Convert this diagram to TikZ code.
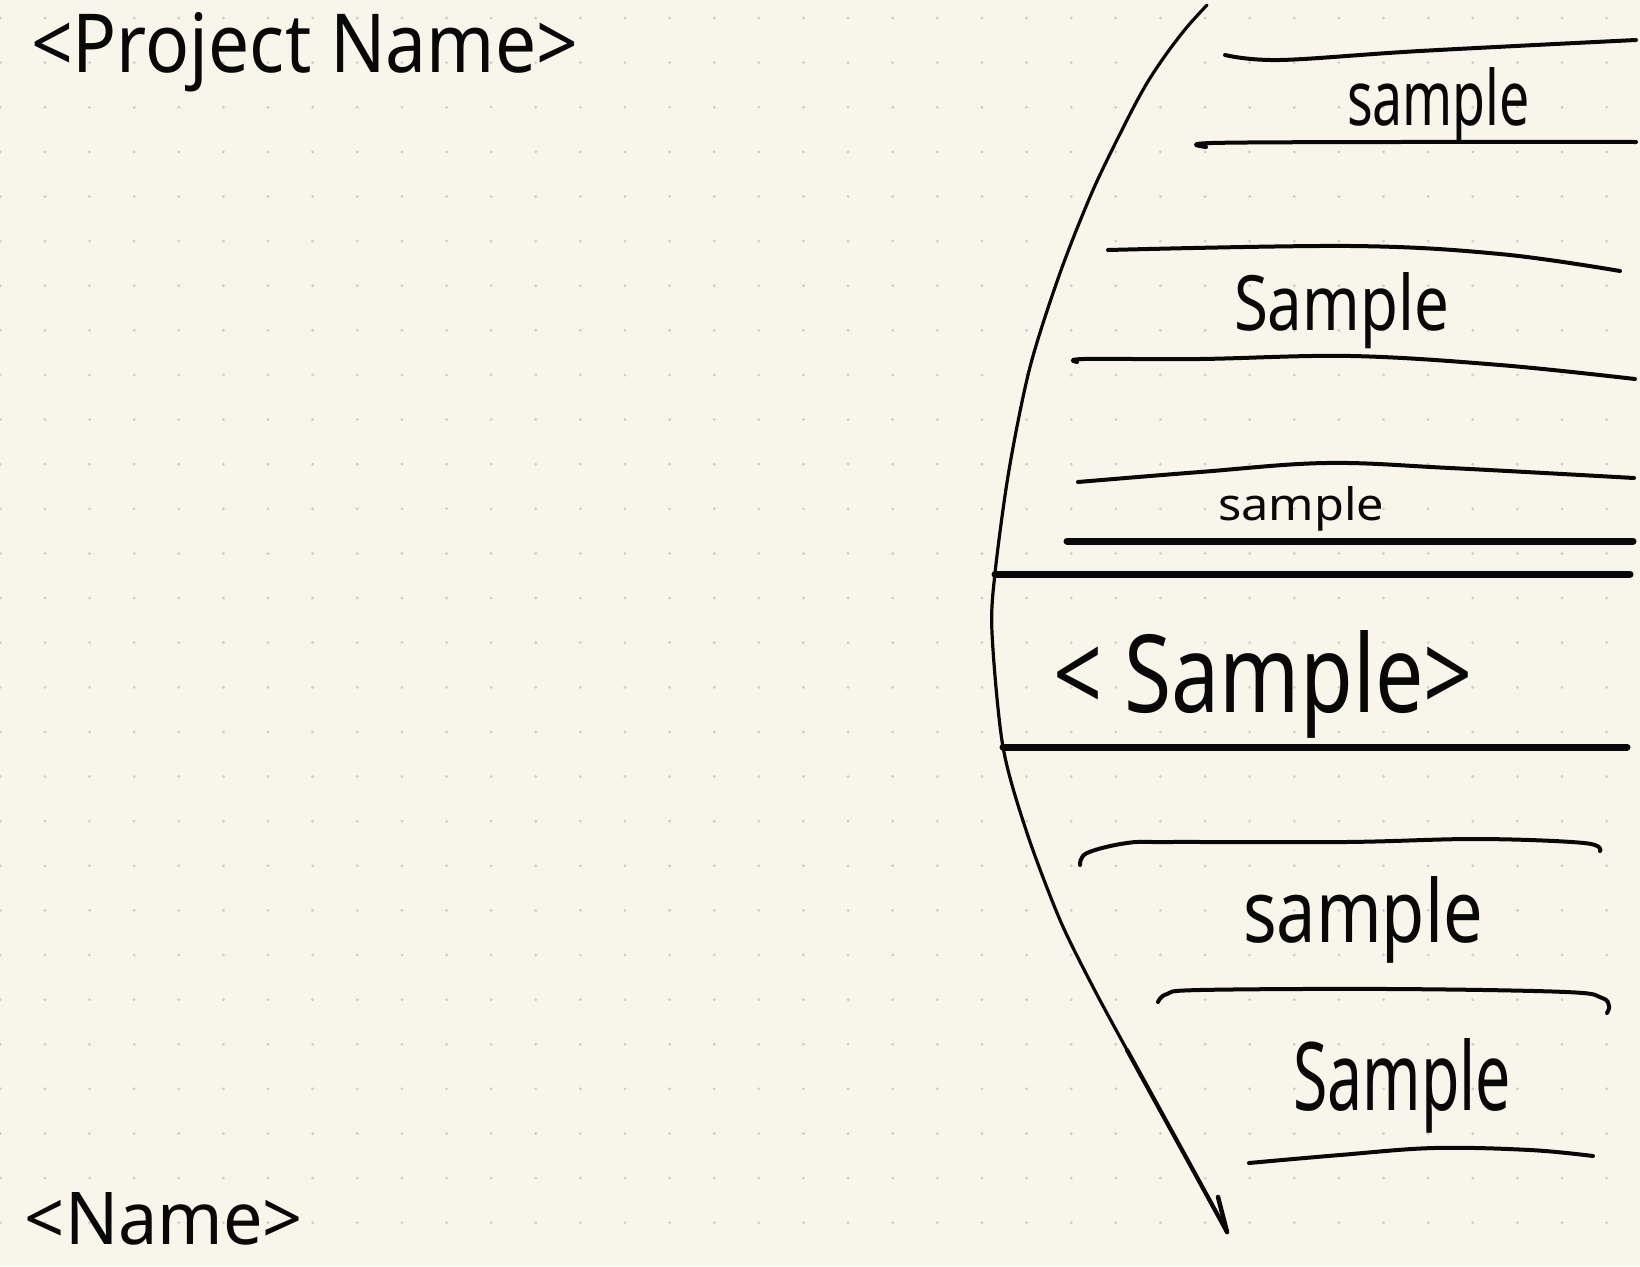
\documentclass[tikz,border=0pt]{standalone}
\usepackage{fontspec}
\setmainfont{Noto Sans}
\usepackage{graphicx}
\definecolor{paper}{RGB}{248,246,234}
\definecolor{dotc}{RGB}{208,207,200}
\definecolor{ink}{RGB}{8,8,8}
\tikzset{
  thinline/.style={draw=ink, line width=4pt, line cap=round, line join=round},
  thickline/.style={draw=ink, line width=7pt, line cap=round},
  spine/.style={draw=ink, line width=3.2pt, line cap=round, line join=round},
  hand/.style={inner sep=0pt, outer sep=0pt, anchor=base west, text=ink},
}
\newcommand{\fitbox}[3]{\resizebox{#1}{#2}{\fontsize{40}{48}\selectfont #3}}
\begin{document}
\begin{tikzpicture}[x=1pt,y=-1pt]
\fill[paper] (0,0) rectangle (1640,1266);
\useasboundingbox (0,0) rectangle (1640,1266);
% dot grid
\foreach \i in {0,...,36} \foreach \j in {0,...,27}
  \fill[dotc] (0.3+44.62*\i, 18+44.62*\j) circle (1.6pt);

% titles
\node[hand] (pname) at (31,72) {\fitbox{547pt}{60pt}{<Project Name>}};
\node[hand] (name) at (25,1244) {\fitbox{278pt}{52pt}{<Name>}};

% spine curve
\draw[spine] plot[smooth, tension=0.5] coordinates {
  (1207,5) (1187,27) (1167,53) (1147,83) (1127,120) (1093,190) (1060,273)
  (1030,367) (1009,470) (995,573) (992,633) (1003,747) (1027,833) (1060,920)
  (1093,987) (1127,1050) (1160,1110) (1193,1170) (1227,1232)};
\draw[ink, line width=4.2pt, line cap=round, line join=round] plot[smooth, tension=0.5] coordinates {
  (1127,1050) (1160,1110) (1193,1170) (1227,1232)};
\draw[ink, line width=4.5pt, line cap=round] (1218,1197) -- (1227,1232);

% thin lines
\draw[thinline] plot[smooth, tension=0.6] coordinates {(1225,55) (1280,60) (1420,51) (1636,40)};
\draw[thinline] plot[smooth, tension=0.6] coordinates {(1206,147) (1212,143) (1400,142) (1636,142)};
\draw[thinline] plot[smooth, tension=0.6] coordinates {(1108,250) (1351,246) (1500,254) (1620,271)};
\draw[thinline] plot[smooth, tension=0.6] coordinates {(1077,362) (1084,359) (1200,359) (1351,356) (1500,365) (1635,379)};
\draw[thinline] plot[smooth, tension=0.6] coordinates {(1078,482) (1200,472) (1326,463) (1450,468) (1634,478)};

% thick lines
\draw[thickline] (1067,541) -- (1633,541);
\draw[thickline] (995,574) -- (1630,574);
\draw[thickline] (1003,747) -- (1627,747);

% lower thin lines
\draw[thinline] plot[smooth, tension=0.6] coordinates {(1080,865) (1087,853) (1127,843) (1170,842) (1346,842) (1478,839) (1584,843) (1600,851)};
\draw[thinline] plot[smooth, tension=0.6] coordinates {(1158,1002) (1167,994) (1200,990) (1390,989) (1566,992) (1602,998) (1609,1006) (1607,1013)};
\draw[thinline] plot[smooth, tension=0.6] coordinates {(1249,1163) (1340,1155) (1434,1148) (1530,1150) (1593,1156)};

% labels
\node[hand] (s1) at (1347,125) {\fitbox{183pt}{58pt}{sample}};
\node[hand] (s2) at (1234,330) {\fitbox{215pt}{58pt}{Sample}};
\node[hand] (s3) at (1218,520) {\fitbox{166pt}{34pt}{sample}};
\node[hand] (s4) at (1053,712) {\fitbox{420pt}{82pt}{< Sample>}};
\node[hand] (s5) at (1243,942) {\fitbox{240pt}{66pt}{sample}};
\node[hand] (s6) at (1293,1110) {\fitbox{218pt}{72pt}{Sample}};
\end{tikzpicture}
\end{document}
